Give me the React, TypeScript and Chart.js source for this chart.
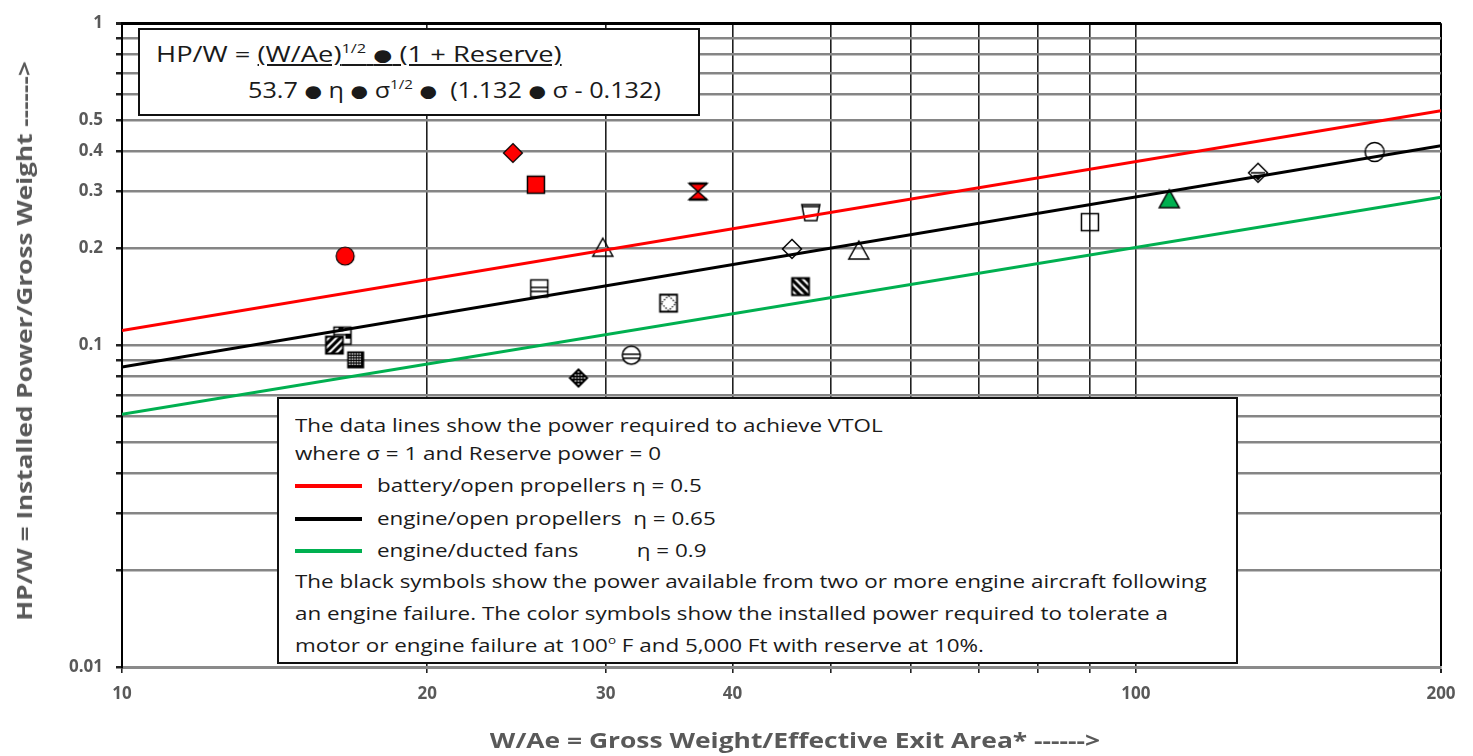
import React, { useEffect, useRef } from "react";
import { Chart, registerables } from "chart.js";

Chart.register(...registerables);

// ---- data ----
const xGridValues = [10, 20, 30, 40, 50, 60, 70, 80, 90, 100, 200];
const xLabelValues = [10, 20, 30, 40, 100, 200];
const yGridValues = [0.01, 0.02, 0.03, 0.04, 0.05, 0.06, 0.07, 0.08, 0.09, 0.1, 0.2, 0.3, 0.4, 0.5, 0.6, 0.7, 0.8, 0.9, 1];
const yLabelValues = [0.01, 0.1, 0.2, 0.3, 0.4, 0.5, 1];

const lineX = [10, 200];
const redLineY = [0.111, 0.535];   // battery/open propellers eta = 0.5
const blackLineY = [0.0855, 0.416]; // engine/open propellers eta = 0.65
const greenLineY = [0.061, 0.288]; // engine/ducted fans eta = 0.9

const markerKind = [
  "circleRed", "diamondRed", "squareRed", "hourglassRed",
  "triOpen", "squareHLines", "squareDiamond", "circleHLine", "diamondDots",
  "squareHalf", "squareSlash", "squareCheck",
  "trapOpen", "diamondOpen", "triOpen", "squareBack",
  "squareOpen", "triGreen", "diamondTri", "circleOpen",
];
const markerX = [16.6, 24.3, 25.6, 37.0, 29.8, 25.8, 34.6, 31.8, 28.2, 16.5, 16.2, 17.0, 47.8, 45.8, 53.3, 46.7, 90.1, 107.9, 132, 172];
const markerY = [0.189, 0.395, 0.315, 0.30, 0.20, 0.150, 0.135, 0.093, 0.079, 0.107, 0.100, 0.090, 0.258, 0.199, 0.196, 0.152, 0.241, 0.283, 0.343, 0.398];

const xTitle = "W/Ae = Gross Weight/Effective Exit Area* ------>";
const yTitle = "HP/W = Installed Power/Gross Weight ------>";

const RED = "#ff0000";
const GREEN = "#00b050";

function makeMarker(kind: string): HTMLCanvasElement {
  const S = 26;
  const c = S / 2;
  const cv = document.createElement("canvas");
  cv.width = S;
  cv.height = S;
  const g = cv.getContext("2d")!;
  g.lineWidth = 1.5;
  g.strokeStyle = "#000";
  const sq = (h: number) => { g.beginPath(); g.rect(c - h, c - h, 2 * h, 2 * h); };
  const dia = (h: number) => { g.beginPath(); g.moveTo(c, c - h); g.lineTo(c + h, c); g.lineTo(c, c + h); g.lineTo(c - h, c); g.closePath(); };
  const tri = () => { g.beginPath(); g.moveTo(c, c - 10); g.lineTo(c + 10, c + 8); g.lineTo(c - 10, c + 8); g.closePath(); };
  const circ = (r: number) => { g.beginPath(); g.arc(c, c, r, 0, Math.PI * 2); };
  const stripes = (dir: number) => {
    g.save();
    sq(8.5); g.clip();
    g.lineWidth = 3.2;
    for (let k = -24; k <= 24; k += 7.5) {
      g.beginPath();
      if (dir > 0) { g.moveTo(c - 12 + k, c + 12); g.lineTo(c + 12 + k, c - 12); }
      else { g.moveTo(c - 12 + k, c - 12); g.lineTo(c + 12 + k, c + 12); }
      g.stroke();
    }
    g.restore();
  };
  switch (kind) {
    case "circleRed": circ(9); g.fillStyle = RED; g.fill(); g.lineWidth = 1.2; g.stroke(); break;
    case "diamondRed": dia(9.5); g.fillStyle = RED; g.fill(); g.lineWidth = 1.2; g.stroke(); break;
    case "squareRed": sq(8.5); g.fillStyle = RED; g.fill(); g.lineWidth = 1.5; g.stroke(); break;
    case "hourglassRed":
      g.beginPath(); g.moveTo(c - 9, c - 8); g.lineTo(c + 9, c - 8); g.lineTo(c, c); g.lineTo(c + 9, c + 8); g.lineTo(c - 9, c + 8); g.lineTo(c, c); g.closePath();
      g.fillStyle = RED; g.fill(); g.lineWidth = 1.5; g.stroke();
      g.lineWidth = 2.5; g.beginPath(); g.moveTo(c - 9, c - 8); g.lineTo(c + 9, c - 8); g.moveTo(c - 9, c + 8); g.lineTo(c + 9, c + 8); g.stroke();
      break;
    case "triOpen": tri(); g.stroke(); break;
    case "triGreen": tri(); g.fillStyle = GREEN; g.fill(); g.stroke(); break;
    case "squareOpen": sq(8.5); g.stroke(); break;
    case "squareHLines":
      sq(8.5); g.fillStyle = "#fff"; g.fill(); g.stroke();
      g.beginPath(); g.moveTo(c - 8.5, c - 1); g.lineTo(c + 8.5, c - 1); g.moveTo(c - 8.5, c + 3); g.lineTo(c + 8.5, c + 3); g.stroke();
      break;
    case "squareDiamond":
      sq(8.5); g.fillStyle = "#fff"; g.fill(); g.lineWidth = 1.8; g.stroke();
      g.lineWidth = 1.2; g.setLineDash([1.5, 1.5]); dia(7.5); g.stroke(); g.setLineDash([]);
      break;
    case "circleHLine":
      circ(9); g.fillStyle = "#fff"; g.fill(); g.stroke();
      g.beginPath(); g.moveTo(c - 9, c - 1); g.lineTo(c + 9, c - 1); g.moveTo(c - 8.3, c + 3); g.lineTo(c + 8.3, c + 3); g.stroke();
      break;
    case "diamondDots":
      dia(10); g.fillStyle = "#000"; g.fill();
      g.fillStyle = "#fff";
      for (let i = -6; i <= 6; i += 3) for (let j = -6; j <= 6; j += 3) {
        if (Math.abs(i) + Math.abs(j) <= 6) g.fillRect(c + i - 0.7, c + j - 0.7, 1.4, 1.4);
      }
      break;
    case "squareHalf":
      sq(8.5); g.fillStyle = "#fff"; g.fill(); g.stroke();
      g.fillStyle = "#000";
      g.fillRect(c - 4, c - 8.5, 5, 4); g.fillRect(c + 3, c - 2, 5.5, 5);
      g.beginPath(); g.moveTo(c - 8.5, c - 1); g.lineTo(c + 8.5, c - 1); g.stroke();
      break;
    case "squareSlash":
      sq(8.5); g.fillStyle = "#fff"; g.fill(); stripes(1); sq(8.5); g.lineWidth = 1.8; g.stroke();
      break;
    case "squareBack":
      sq(8.5); g.fillStyle = "#fff"; g.fill(); stripes(-1); sq(8.5); g.lineWidth = 1.8; g.stroke();
      break;
    case "squareCheck":
      sq(8.5); g.fillStyle = "#000"; g.fill();
      g.fillStyle = "#fff";
      for (let i = -6; i <= 6; i += 2.6) for (let j = -6; j <= 6; j += 2.6) {
        g.fillRect(c + i - 0.7, c + j - 0.7, 1.4, 1.4);
      }
      break;
    case "trapOpen":
      g.beginPath(); g.moveTo(c - 9, c - 8); g.lineTo(c + 9, c - 8); g.lineTo(c + 6, c + 8); g.lineTo(c - 6, c + 8); g.closePath(); g.stroke();
      g.beginPath(); g.moveTo(c - 8.6, c - 6); g.lineTo(c + 8.6, c - 6); g.stroke();
      break;
    case "diamondOpen": dia(9.5); g.stroke(); break;
    case "diamondTri":
      dia(9.5); g.stroke();
      g.beginPath(); g.moveTo(c - 7, c); g.lineTo(c + 7, c); g.stroke();
      g.beginPath(); g.moveTo(c - 5, c + 2); g.lineTo(c + 5, c + 2); g.lineTo(c, c + 8); g.closePath(); g.fillStyle = "#000"; g.fill();
      break;
    case "circleOpen": circ(9.5); g.stroke(); break;
  }
  return cv;
}

const FONT = "'Open Sans', 'DejaVu Sans', sans-serif";

export default function App() {
  const ref = useRef<HTMLCanvasElement | null>(null);

  useEffect(() => {
    if (!ref.current) return;
    const styles = markerKind.map(makeMarker);
    const pts = (ys: number[]) => lineX.map((x, i) => ({ x, y: ys[i] }));
    const lineDs = (ys: number[], color: string) => ({
      type: "line" as const,
      data: pts(ys),
      borderColor: color,
      borderWidth: 3,
      pointRadius: 0,
      showLine: true,
      order: 0,
    });
    const chart = new Chart(ref.current, {
      type: "scatter",
      data: {
        datasets: [
          lineDs(redLineY, RED),
          lineDs(blackLineY, "#000"),
          lineDs(greenLineY, GREEN),
          {
            type: "scatter",
            data: markerX.map((x, i) => ({ x, y: markerY[i] })),
            pointStyle: styles as any,
            pointRadius: 10,
            order: 1,
          } as any,
        ],
      },
      options: {
        animation: false,
        responsive: false,
        layout: { padding: { top: 17, right: 32, left: 0, bottom: 0 } },
        plugins: { legend: { display: false }, tooltip: { enabled: false } },
        scales: {
          x: {
            type: "logarithmic",
            min: 10,
            max: 200,
            afterBuildTicks: (s: any) => { s.ticks = xGridValues.map((v) => ({ value: v })); },
            afterFit: (s: any) => { s.height = 89; },
            ticks: {
              autoSkip: false,
              maxRotation: 0,
              padding: 11,
              color: "#595959",
              font: { family: FONT, size: 17, weight: "bold" },
              callback: (v: any) => (xLabelValues.includes(Number(v)) ? String(v) : ""),
            },
            grid: {
              color: (ctx: any) => (ctx.tick && ctx.tick.value === 10 ? "rgba(0,0,0,0)" : ctx.tick && ctx.tick.value === 200 ? "#000" : "#1f1f1f"),
              lineWidth: (ctx: any) => (ctx.tick && ctx.tick.value === 200 ? 2 : 1.6),
              tickLength: 6,
              tickColor: "#222",
            },
            border: { display: true, color: "#8a8a8a", width: 3 },
          },
          y: {
            type: "logarithmic",
            min: 0.01,
            max: 1,
            afterBuildTicks: (s: any) => { s.ticks = yGridValues.map((v) => ({ value: v })); },
            afterFit: (s: any) => { s.width = 122; },
            ticks: {
              autoSkip: false,
              padding: 13,
              color: "#595959",
              font: { family: FONT, size: 17, weight: "bold" },
              callback: (v: any) => (yLabelValues.includes(Number(v)) ? String(v) : ""),
            },
            grid: {
              color: (ctx: any) => (ctx.tick && ctx.tick.value === 1 ? "#000" : "#858585"),
              lineWidth: (ctx: any) => (ctx.tick && ctx.tick.value === 1 ? 3 : 2.5),
              tickLength: 6,
              tickColor: "#222",
            },
            border: { display: true, color: "#000", width: 2 },
          },
        },
      },
    } as any);
    return () => chart.destroy();
  }, []);

  const SX = 1.18;
  const row: React.CSSProperties = {
    position: "absolute",
    left: 16,
    height: 30,
    lineHeight: "30px",
    whiteSpace: "pre",
    fontFamily: FONT,
    fontSize: 19,
    color: "#1a1a1a",
  };
  const stretch = (s: number): React.CSSProperties => ({ display: "inline-block", transform: `scaleX(${s})`, transformOrigin: "left center" });
  const sw = (color: string): React.CSSProperties => ({
    display: "inline-block",
    width: 67,
    height: 4,
    background: color,
    verticalAlign: "middle",
    marginRight: 15,
    position: "relative",
    top: -1,
  });
  const bullet = <span style={{ fontSize: "0.8em", position: "relative", top: -1 }}>●</span>;
  const sup = (s: string) => <sup style={{ fontSize: "0.6em", verticalAlign: "0.7em", lineHeight: 0 }}>{s}</sup>;
  const Row = (top: number, content: React.ReactNode, swatch?: string) => (
    <div style={{ ...row, top }}>
      {swatch ? <span style={sw(swatch)} /> : null}
      <span style={stretch(SX)}>{content}</span>
    </div>
  );

  return (
    <div style={{ position: "fixed", left: 0, top: 0, width: 1473, height: 756, background: "#fff", overflow: "hidden" }}>
      <canvas ref={ref} width={1473} height={756} style={{ position: "absolute", left: 0, top: 0, width: 1473, height: 756 }} />
      {/* axis titles */}
      <div style={{ position: "absolute", left: 795, top: 739, width: 0, height: 0 }}>
        <div style={{
          position: "absolute", left: 0, top: 0, whiteSpace: "pre", fontFamily: FONT, fontWeight: 700, fontSize: 22,
          lineHeight: "26px", color: "#595959", transform: "translate(-50%, -50%) scaleX(1.2)",
        }}>{xTitle}</div>
      </div>
      <div style={{ position: "absolute", left: 23, top: 341, width: 0, height: 0 }}>
        <div style={{
          position: "absolute", left: 0, top: 0, whiteSpace: "pre", fontFamily: FONT, fontWeight: 700, fontSize: 22,
          lineHeight: "26px", color: "#595959", transform: "translate(-50%, -50%) rotate(-90deg) scaleX(1.19)",
        }}>{yTitle}</div>
      </div>
      {/* formula box */}
      <div
        style={{
          position: "absolute", left: 138, top: 28, width: 558, height: 84,
          background: "#fff", border: "2px solid #111", fontFamily: FONT, fontSize: 21, color: "#1a1a1a",
        }}
      >
        <div style={{ position: "absolute", left: 16, top: 10, whiteSpace: "pre", lineHeight: "28px" }}>
          <span style={stretch(1.3)}>HP/W = <span style={{ textDecoration: "underline" }}>(W/Ae){sup("1/2")} {bullet} (1 + Reserve)</span></span>
        </div>
        <div style={{ position: "absolute", left: 108, top: 46, whiteSpace: "pre", lineHeight: "28px" }}>
          <span style={stretch(1.2)}>53.7 {bullet} η {bullet} σ{sup("1/2")} {bullet}  (1.132 {bullet} σ - 0.132)</span>
        </div>
      </div>
      {/* note / legend box */}
      <div
        style={{
          position: "absolute", left: 277, top: 397, width: 957, height: 263,
          background: "#fff", border: "2px solid #111",
        }}
      >
        {Row(11, "The data lines show the power required to achieve VTOL")}
        {Row(39, "where σ = 1 and Reserve power = 0")}
        {Row(71, "battery/open propellers η = 0.5", RED)}
        {Row(104, "engine/open propellers  η = 0.65", "#000")}
        {Row(136, "engine/ducted fans          η = 0.9", GREEN)}
        {Row(167, "The black symbols show the power available from two or more engine aircraft following")}
        {Row(199, "an engine failure. The color symbols show the installed power required to tolerate a")}
        {Row(231, <>motor or engine failure at 100{sup("o")} F and 5,000 Ft with reserve at 10%.</>)}
      </div>
    </div>
  );
}
